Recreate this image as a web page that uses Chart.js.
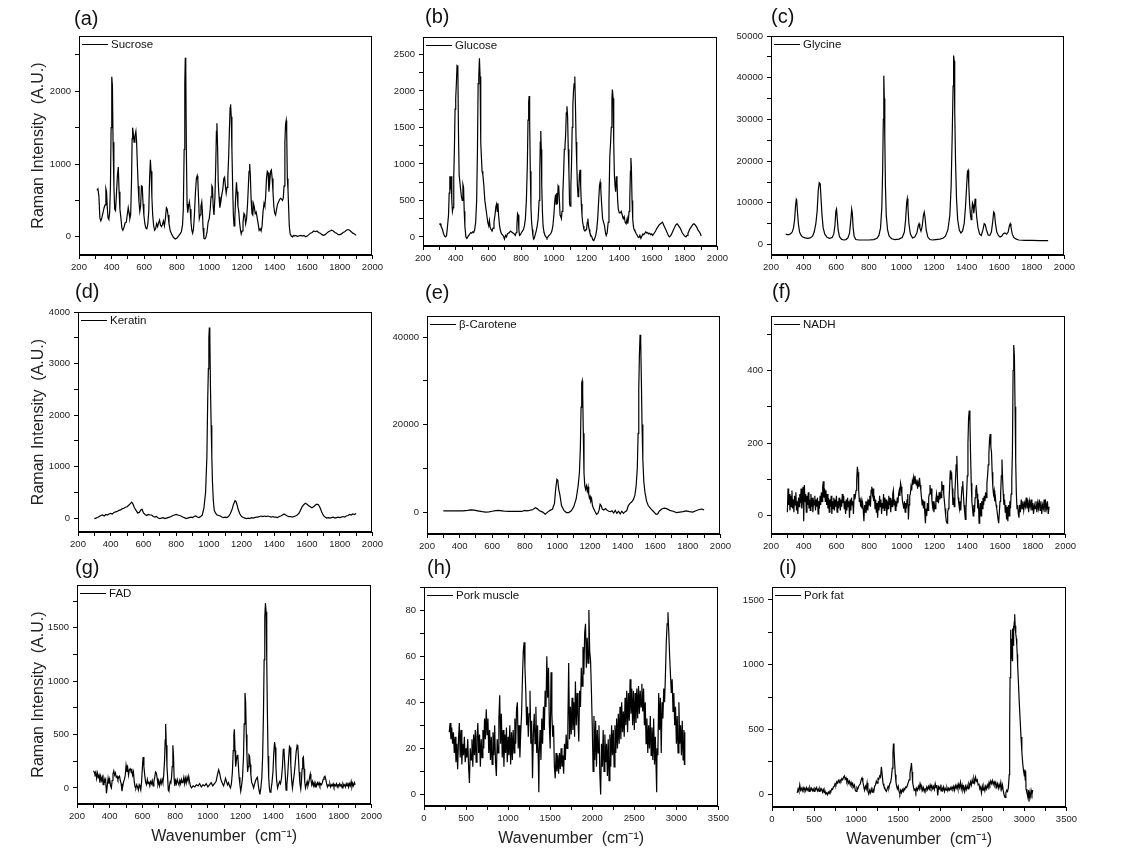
<!DOCTYPE html>
<html>
<head>
<meta charset="utf-8">
<script src="https://cdn.jsdelivr.net/npm/chart.js@4.4.1/dist/chart.umd.min.js"></script>
<style>
  html, body { margin: 0; padding: 0; background: #fff; }
  body { width: 1132px; height: 860px; position: relative; overflow: hidden; }
  canvas { position: absolute; }
</style>
</head>
<body>
<script>
// spectra: [wavenumber, intensity]
const sucrose = [[310,640],[316,660],[322,560],[328,260],[334,220],[340,260],[347,330],[354,400],[360,440],[365,660],[369,620],[373,420],[378,260],[383,240],[388,330],[393,700],[397,1500],[401,2200],[405,2080],[409,1300],[414,700],[419,380],[424,360],[430,600],[436,850],[441,960],[446,620],[451,380],[457,260],[463,120],[469,90],[476,130],[483,190],[490,200],[496,300],[502,400],[507,330],[512,250],[517,300],[522,750],[526,1350],[529,1500],[533,1420],[538,1300],[543,1380],[549,1450],[553,1320],[558,1000],[563,700],[568,480],[573,350],[578,420],[583,700],[588,690],[593,450],[598,300],[604,180],[610,120],[616,110],[622,170],[628,350],[633,800],[638,1060],[642,900],[647,550],[652,300],[658,150],[664,90],[670,110],[676,180],[682,140],[688,190],[694,230],[700,160],[706,140],[712,170],[718,220],[724,150],[730,250],[736,400],[741,380],[746,300],[752,180],[760,80],[770,30],[780,-10],[790,-30],[800,-20],[810,10],[820,40],[828,70],[835,160],[840,380],[845,1200],[849,2100],[852,2460],[855,2300],[859,1100],[863,450],[867,330],[872,420],[877,480],[882,380],[887,200],[892,90],[897,50],[902,100],[908,300],[914,600],[920,800],[925,840],[929,780],[933,550],[938,250],[943,300],[948,420],[953,480],[957,350],[961,120],[966,-20],[972,-30],[978,-10],[985,60],[992,200],[999,250],[1005,380],[1010,550],[1015,700],[1019,680],[1023,420],[1028,300],[1034,550],[1039,1000],[1043,1450],[1046,1560],[1050,1250],[1054,750],[1059,550],[1064,400],[1070,480],[1076,580],[1082,650],[1088,800],[1093,820],[1098,700],[1103,600],[1108,680],[1113,820],[1118,1100],[1123,1500],[1127,1780],[1130,1820],[1134,1650],[1138,1200],[1143,650],[1147,300],[1151,150],[1156,250],[1161,550],[1166,750],[1170,620],[1175,420],[1180,350],[1185,200],[1190,100],[1195,40],[1200,80],[1206,200],[1212,320],[1217,300],[1222,180],[1228,250],[1234,450],[1239,700],[1243,900],[1247,1000],[1251,850],[1256,500],[1261,320],[1266,300],[1271,450],[1276,400],[1281,320],[1287,340],[1293,260],[1299,180],[1305,90],[1311,110],[1317,80],[1323,150],[1329,350],[1335,460],[1340,420],[1345,550],[1350,800],[1355,900],[1360,880],[1365,620],[1370,750],[1375,900],[1380,920],[1385,800],[1390,620],[1395,420],[1400,330],[1406,300],[1412,380],[1418,450],[1424,480],[1430,510],[1436,530],[1442,520],[1448,500],[1453,530],[1458,700],[1463,1300],[1467,1550],[1471,1600],[1474,1450],[1478,800],[1482,650],[1486,400],[1490,150],[1495,40],[1502,10],[1510,0],[1515,20],[1520,10],[1530,20],[1540,5],[1550,15],[1560,20],[1570,10],[1580,20],[1590,0],[1600,10],[1610,30],[1620,50],[1630,60],[1640,80],[1650,70],[1660,80],[1670,60],[1680,50],[1690,30],[1700,20],[1710,30],[1720,50],[1730,70],[1740,80],[1750,90],[1760,80],[1770,60],[1780,50],[1790,30],[1800,30],[1810,40],[1820,60],[1830,70],[1840,90],[1850,100],[1860,90],[1870,70],[1880,50],[1890,40],[1900,20]];

const glucose = [[300,170],[305,180],[310,150],[318,110],[325,50],[332,10],[338,0],[344,20],[350,150],[356,300],[360,600],[364,830],[368,650],[372,830],[376,500],[380,350],[384,400],[388,830],[392,1200],[396,1750],[400,1900],[404,2100],[408,2350],[413,2340],[417,1400],[421,850],[426,850],[430,650],[435,550],[440,500],[444,720],[448,680],[452,350],[456,150],[462,0],[468,-20],[474,0],[480,20],[486,40],[492,60],[498,50],[504,70],[510,60],[516,100],[522,200],[528,500],[533,1200],[537,2100],[541,2200],[545,2450],[549,2200],[553,1300],[557,1100],[561,900],[566,850],[572,700],[578,500],[584,400],[590,300],[596,200],[602,150],[606,220],[610,140],[616,100],[622,80],[628,120],[634,200],[640,300],[646,420],[650,450],[654,350],[658,460],[662,300],[668,150],[674,80],[680,40],[686,30],[692,10],[698,-30],[704,20],[710,0],[716,40],[722,50],[728,60],[734,80],[740,70],[746,60],[752,50],[758,40],[764,20],[770,60],[774,150],[778,320],[782,300],[786,100],[790,20],[796,30],[802,60],[808,80],[814,100],[820,150],[826,250],[832,500],[838,1000],[842,1600],[846,1850],[849,1930],[852,1600],[856,900],[860,400],[864,200],[868,100],[872,20],[876,-30],[880,-20],[886,30],[892,80],[898,150],[904,250],[910,500],[914,900],[917,1300],[920,1450],[923,1200],[926,700],[930,350],[934,150],[940,60],[946,20],[952,0],[958,-20],[964,0],[970,20],[976,30],[982,50],[988,80],[994,150],[1000,300],[1006,500],[1010,580],[1014,450],[1018,600],[1022,450],[1026,700],[1030,680],[1034,500],[1038,300],[1042,280],[1046,250],[1050,350],[1055,600],[1060,900],[1064,1200],[1068,1250],[1072,1400],[1076,1700],[1080,1790],[1084,1650],[1088,1200],[1092,900],[1096,450],[1100,420],[1104,700],[1108,1000],[1112,1500],[1116,1800],[1120,2000],[1124,2100],[1128,2200],[1132,1800],[1136,1300],[1140,1000],[1144,700],[1148,550],[1152,600],[1156,850],[1160,920],[1164,700],[1168,450],[1172,300],[1176,200],[1180,150],[1184,100],[1190,80],[1196,100],[1200,100],[1204,200],[1208,250],[1212,150],[1216,100],[1220,60],[1226,20],[1232,0],[1238,-40],[1244,-50],[1250,-20],[1256,20],[1262,100],[1268,250],[1274,500],[1279,700],[1283,750],[1287,650],[1292,450],[1298,250],[1304,200],[1310,150],[1316,50],[1320,20],[1326,60],[1332,200],[1337,500],[1342,1100],[1347,1300],[1351,1500],[1355,1900],[1358,2020],[1362,1900],[1366,1300],[1370,850],[1374,700],[1378,620],[1382,830],[1386,750],[1390,500],[1394,380],[1400,330],[1406,330],[1412,350],[1418,300],[1424,250],[1430,280],[1436,200],[1442,180],[1448,250],[1452,180],[1456,250],[1460,350],[1464,500],[1468,900],[1471,1080],[1474,950],[1478,500],[1482,250],[1486,150],[1490,100],[1496,80],[1502,50],[1508,30],[1514,0],[1520,-10],[1526,20],[1532,-20],[1538,10],[1544,40],[1550,30],[1556,50],[1562,70],[1568,50],[1574,60],[1580,40],[1586,50],[1592,30],[1598,40],[1604,20],[1610,40],[1616,60],[1622,80],[1628,110],[1634,130],[1640,150],[1646,170],[1652,180],[1658,190],[1664,200],[1670,170],[1676,140],[1682,110],[1688,80],[1694,50],[1700,20],[1706,0],[1712,10],[1718,30],[1724,60],[1730,90],[1736,120],[1742,150],[1748,170],[1754,180],[1760,160],[1766,140],[1772,120],[1778,90],[1784,60],[1790,40],[1796,20],[1802,10],[1808,0],[1814,20],[1820,50],[1826,80],[1832,110],[1838,130],[1844,150],[1850,170],[1856,180],[1862,170],[1868,150],[1874,130],[1880,100],[1886,80],[1892,60],[1898,30],[1900,10]];

const glycine = [[290,2500],[300,2400],[310,2400],[320,2600],[330,3000],[338,4000],[345,6000],[350,9000],[355,10800],[358,10500],[362,8000],[368,5000],[375,3000],[385,2200],[395,1800],[410,1600],[425,1500],[440,1600],[455,2000],[465,3000],[475,5000],[483,8000],[490,13000],[496,14800],[502,14500],[507,11000],[513,7000],[520,4000],[530,2500],[545,1700],[560,1500],[575,1700],[585,2500],[592,4500],[598,8000],[602,8500],[606,6500],[612,3500],[620,1900],[632,1300],[645,1100],[660,1200],[672,1600],[682,2800],[690,6000],[695,8500],[699,7500],[704,4000],[710,2000],[720,1200],[740,1100],[770,1100],[800,1100],[830,1200],[850,1500],[862,2200],[872,4000],[880,9000],[885,18000],[889,30000],[892,40500],[895,35000],[898,26000],[902,14000],[907,7000],[915,3500],[925,2000],[940,1400],[960,1200],[985,1300],[1005,1700],[1018,3000],[1026,6000],[1032,10000],[1036,11000],[1040,9000],[1046,5000],[1055,2500],[1068,1600],[1082,1800],[1095,2800],[1103,4500],[1108,5000],[1113,4000],[1120,3200],[1128,4500],[1135,7000],[1140,7800],[1145,6500],[1152,3500],[1162,1800],[1175,1200],[1190,1100],[1210,1200],[1235,1300],[1255,1500],[1270,2000],[1285,3500],[1297,7000],[1305,14000],[1312,27000],[1317,38000],[1320,45300],[1324,44000],[1327,32000],[1332,20000],[1338,11000],[1345,6000],[1355,3500],[1365,2800],[1375,3200],[1385,5000],[1393,9000],[1400,14000],[1405,17500],[1409,17800],[1413,14500],[1418,10000],[1424,7000],[1428,6000],[1432,8000],[1436,10000],[1440,9500],[1444,7500],[1448,9000],[1452,11000],[1456,9500],[1462,6500],[1470,4000],[1480,2500],[1490,2200],[1500,3500],[1508,5000],[1514,4800],[1522,3500],[1532,2300],[1542,2200],[1552,3000],[1560,5500],[1566,7800],[1571,7500],[1577,5000],[1585,3000],[1595,2200],[1605,1800],[1615,2000],[1625,2600],[1635,2800],[1645,2500],[1655,3000],[1662,4500],[1667,5000],[1672,4200],[1680,2500],[1690,1700],[1705,1300],[1720,1100],[1760,1000],[1800,1000],[1850,950],[1900,950]];

const keratin = [[300,-10],[310,0],[320,10],[330,30],[340,50],[350,60],[360,40],[370,70],[380,60],[390,80],[400,90],[410,80],[420,110],[430,120],[440,130],[450,150],[460,160],[470,180],[480,190],[490,210],[500,220],[510,250],[520,280],[528,310],[535,280],[545,200],[555,150],[565,100],[575,110],[585,160],[592,170],[600,100],[610,70],[620,50],[630,70],[640,60],[650,60],[660,30],[670,20],[680,30],[690,0],[700,-10],[710,0],[720,10],[730,-10],[740,0],[750,10],[760,20],[770,30],[780,50],[790,60],[800,70],[810,60],[820,50],[830,40],[840,20],[850,10],[860,-10],[870,0],[880,10],[890,20],[900,10],[910,30],[920,40],[930,20],[940,10],[950,30],[960,60],[970,200],[980,500],[988,1200],[993,2300],[997,2900],[1000,3500],[1003,3700],[1006,3500],[1010,2500],[1014,1800],[1018,1200],[1022,700],[1027,350],[1033,150],[1040,100],[1050,60],[1060,50],[1070,40],[1080,20],[1090,10],[1100,20],[1110,10],[1120,30],[1130,80],[1140,150],[1150,260],[1160,340],[1166,320],[1173,250],[1180,160],[1190,80],[1200,30],[1210,10],[1220,0],[1230,-10],[1240,0],[1250,-10],[1260,10],[1270,0],[1280,10],[1290,20],[1300,20],[1310,30],[1320,40],[1330,30],[1340,40],[1350,30],[1360,40],[1370,30],[1380,20],[1390,30],[1400,20],[1410,20],[1420,10],[1430,30],[1440,40],[1450,60],[1460,80],[1470,60],[1480,40],[1490,30],[1500,30],[1510,20],[1520,30],[1530,40],[1540,60],[1550,90],[1560,150],[1570,220],[1580,260],[1590,290],[1600,270],[1610,240],[1620,220],[1630,200],[1640,220],[1650,250],[1660,270],[1670,260],[1680,200],[1690,120],[1700,50],[1710,20],[1720,0],[1730,10],[1740,0],[1750,10],[1760,20],[1770,0],[1780,10],[1790,20],[1800,10],[1810,20],[1820,30],[1830,20],[1840,40],[1850,50],[1860,70],[1870,60],[1880,80],[1890,70],[1900,90]];

const carotene = [[300,300],[340,300],[380,300],[420,300],[450,400],[470,500],[490,450],[510,300],[540,100],[560,0],[580,50],[600,200],[620,350],[640,400],[660,300],[680,200],[700,150],[740,150],[780,150],[800,400],[810,300],[830,400],[850,600],[865,1000],[875,800],[890,300],[910,0],[925,-500],[940,0],[955,400],[970,700],[982,2000],[990,5500],[997,7500],[1002,7300],[1008,5200],[1015,4000],[1025,1500],[1040,400],[1055,-100],[1070,-100],[1085,300],[1100,1200],[1115,3000],[1127,6000],[1135,9000],[1141,15000],[1145,24000],[1149,29500],[1152,30000],[1155,27000],[1159,18000],[1163,9000],[1168,6000],[1173,5200],[1178,6000],[1183,4800],[1188,5800],[1192,4200],[1196,3200],[1200,3600],[1205,2500],[1210,3000],[1215,1500],[1222,800],[1230,200],[1240,-500],[1248,-300],[1256,500],[1262,1800],[1268,1500],[1275,700],[1285,500],[1295,800],[1305,400],[1315,200],[1325,100],[1335,300],[1345,-200],[1355,400],[1365,-300],[1375,200],[1385,-400],[1395,200],[1405,-300],[1415,100],[1425,300],[1435,1500],[1445,2000],[1455,2300],[1465,2800],[1475,3800],[1483,6000],[1490,10000],[1495,18000],[1499,28000],[1503,36000],[1507,40500],[1511,39000],[1515,30000],[1519,20000],[1524,12000],[1530,7000],[1537,4500],[1547,2500],[1557,1500],[1572,800],[1588,200],[1605,-500],[1615,-400],[1625,200],[1640,700],[1655,900],[1670,800],[1690,400],[1710,200],[1730,-100],[1750,0],[1770,100],[1790,300],[1810,100],[1830,0],[1850,300],[1870,600],[1885,700],[1900,500]];

const nadh = [[300,10],[304,75],[308,30],[312,60],[316,15],[320,55],[324,25],[328,70],[332,20],[336,45],[340,10],[344,55],[348,30],[352,65],[356,15],[360,40],[364,5],[368,50],[372,25],[376,60],[380,35],[384,75],[388,20],[392,50],[396,80],[400,-15],[404,85],[408,40],[412,60],[416,10],[420,55],[424,30],[428,65],[432,20],[436,45],[440,15],[444,60],[448,25],[452,50],[456,10],[460,40],[464,30],[468,55],[472,15],[476,45],[480,25],[484,50],[488,5],[492,40],[496,20],[500,55],[504,30],[508,65],[512,40],[516,80],[520,95],[524,50],[528,75],[532,40],[536,70],[540,30],[544,60],[548,20],[552,50],[556,10],[560,45],[564,25],[568,55],[572,5],[576,40],[580,20],[584,50],[588,15],[592,45],[596,25],[600,55],[604,10],[608,40],[612,20],[616,50],[620,30],[624,15],[628,45],[632,25],[636,60],[640,35],[644,55],[648,20],[652,40],[656,5],[660,45],[664,15],[668,50],[672,25],[676,40],[680,-5],[684,45],[688,15],[692,50],[696,30],[700,40],[704,5],[708,60],[712,45],[716,55],[720,70],[724,100],[728,135],[732,120],[736,70],[740,40],[744,50],[748,25],[752,40],[756,20],[760,35],[764,15],[768,-15],[772,30],[776,10],[780,40],[784,20],[788,35],[792,15],[796,45],[800,30],[804,55],[808,25],[812,70],[816,80],[820,60],[824,75],[828,40],[832,55],[836,20],[840,45],[844,10],[848,35],[852,-5],[856,40],[860,15],[864,55],[868,25],[872,45],[876,5],[880,35],[884,20],[888,60],[892,15],[896,50],[900,30],[904,45],[908,0],[912,40],[916,20],[920,55],[924,30],[928,50],[932,10],[936,45],[940,25],[944,60],[948,70],[952,30],[956,45],[960,15],[964,40],[968,25],[972,50],[976,35],[980,60],[984,70],[988,55],[992,90],[996,80],[1000,60],[1004,40],[1008,30],[1012,20],[1016,40],[1020,10],[1024,35],[1028,20],[1032,45],[1036,60],[1040,-10],[1044,30],[1048,55],[1052,60],[1056,80],[1060,70],[1064,95],[1068,85],[1072,105],[1076,90],[1080,110],[1084,95],[1088,85],[1092,100],[1096,75],[1100,90],[1104,80],[1108,105],[1112,85],[1116,70],[1120,50],[1124,30],[1128,45],[1132,20],[1136,40],[1140,10],[1144,-20],[1148,20],[1152,0],[1156,35],[1160,15],[1164,50],[1168,60],[1172,85],[1176,60],[1180,75],[1184,40],[1188,25],[1192,40],[1196,10],[1200,30],[1204,20],[1208,45],[1212,60],[1216,40],[1220,55],[1224,35],[1228,65],[1232,45],[1236,60],[1240,50],[1244,95],[1248,70],[1252,85],[1256,60],[1260,40],[1264,20],[1268,0],[1272,-15],[1276,-20],[1280,10],[1284,20],[1288,40],[1292,80],[1296,125],[1300,100],[1304,120],[1308,75],[1312,30],[1316,50],[1320,25],[1324,60],[1328,100],[1332,140],[1336,165],[1340,100],[1344,50],[1348,35],[1352,20],[1356,40],[1360,15],[1364,55],[1368,80],[1372,95],[1376,60],[1380,30],[1384,10],[1388,-10],[1392,20],[1396,60],[1400,110],[1404,200],[1408,270],[1412,290],[1416,260],[1420,170],[1424,90],[1428,40],[1432,20],[1436,0],[1440,30],[1444,10],[1448,50],[1452,70],[1456,85],[1460,60],[1464,20],[1468,45],[1472,-20],[1476,15],[1480,35],[1484,0],[1488,40],[1492,20],[1496,50],[1500,30],[1504,55],[1508,40],[1512,65],[1516,50],[1520,90],[1524,110],[1528,140],[1532,170],[1536,210],[1540,225],[1544,190],[1548,175],[1552,120],[1556,80],[1560,60],[1564,70],[1568,40],[1572,50],[1576,30],[1580,20],[1584,5],[1588,-10],[1592,-20],[1596,10],[1600,40],[1604,60],[1608,110],[1612,155],[1616,100],[1620,60],[1624,30],[1628,45],[1632,10],[1636,30],[1640,-10],[1644,25],[1648,-15],[1652,30],[1656,0],[1660,40],[1664,20],[1668,60],[1672,100],[1676,180],[1680,400],[1684,470],[1688,440],[1692,300],[1696,150],[1700,60],[1704,20],[1708,30],[1712,5],[1716,-5],[1720,30],[1725,10],[1730,45],[1735,20],[1740,40],[1745,15],[1750,35],[1755,25],[1760,50],[1765,20],[1770,45],[1775,10],[1780,40],[1785,25],[1790,45],[1795,15],[1800,35],[1805,5],[1810,30],[1815,20],[1820,40],[1825,10],[1830,35],[1835,20],[1840,45],[1845,15],[1850,40],[1855,5],[1860,30],[1865,20],[1870,45],[1875,10],[1880,35],[1885,20],[1890,40],[1895,5],[1900,25]];

const fad = [[300,160],[305,150],[310,130],[315,150],[320,90],[325,140],[330,100],[335,120],[340,50],[345,110],[350,70],[355,100],[360,30],[365,90],[370,60],[375,80],[380,-50],[385,20],[390,90],[395,40],[400,80],[405,20],[410,0],[415,70],[420,130],[425,160],[430,120],[435,140],[440,100],[445,110],[450,80],[455,100],[460,110],[465,70],[470,40],[475,-30],[480,20],[485,60],[490,80],[495,120],[500,210],[505,150],[510,190],[515,120],[520,170],[525,180],[530,160],[535,170],[540,120],[545,150],[550,60],[555,10],[560,0],[565,30],[570,10],[575,-20],[580,30],[585,10],[590,-20],[595,60],[600,200],[604,290],[609,200],[614,120],[620,50],[625,30],[630,80],[635,40],[640,60],[645,20],[650,60],[655,40],[660,70],[665,20],[670,60],[675,100],[680,150],[685,140],[690,90],[695,30],[700,60],[705,20],[710,70],[715,40],[720,80],[725,50],[730,120],[735,250],[739,450],[742,600],[746,400],[750,200],[754,100],[758,-20],[762,-30],[766,30],[770,60],[774,50],[778,100],[782,200],[786,400],[790,300],[794,80],[798,20],[803,70],[808,40],[813,80],[818,50],[823,30],[828,70],[833,40],[838,80],[843,50],[848,60],[853,100],[858,40],[863,90],[868,50],[873,100],[878,70],[883,110],[888,60],[893,20],[900,0],[910,20],[920,10],[930,30],[940,20],[950,40],[960,10],[970,30],[980,20],[990,40],[1000,10],[1010,30],[1020,50],[1030,20],[1040,40],[1050,60],[1058,120],[1066,170],[1072,140],[1078,90],[1084,60],[1090,40],[1096,20],[1102,50],[1108,90],[1114,60],[1120,30],[1126,50],[1132,20],[1138,0],[1144,40],[1150,150],[1155,350],[1159,500],[1162,550],[1166,350],[1170,200],[1174,250],[1179,300],[1183,310],[1187,200],[1191,100],[1196,30],[1201,-30],[1206,20],[1212,100],[1218,300],[1222,600],[1227,890],[1231,800],[1235,500],[1239,300],[1243,150],[1247,200],[1251,310],[1255,300],[1259,220],[1263,120],[1268,50],[1274,30],[1280,0],[1286,40],[1292,70],[1298,90],[1303,100],[1308,30],[1313,-20],[1318,-60],[1324,0],[1330,100],[1335,300],[1340,700],[1344,1200],[1348,1600],[1352,1730],[1356,1650],[1360,1200],[1364,700],[1368,300],[1372,100],[1376,0],[1380,-40],[1386,-20],[1392,50],[1398,150],[1403,330],[1408,430],[1412,380],[1416,200],[1420,80],[1426,0],[1432,30],[1438,60],[1444,40],[1450,90],[1456,200],[1461,360],[1465,370],[1469,250],[1474,100],[1478,-20],[1483,30],[1488,120],[1494,280],[1499,390],[1503,380],[1507,220],[1512,80],[1517,0],[1522,60],[1528,130],[1534,230],[1540,340],[1546,400],[1550,390],[1554,280],[1558,150],[1563,40],[1568,-10],[1572,60],[1576,180],[1580,280],[1584,290],[1588,180],[1592,60],[1597,0],[1602,30],[1607,60],[1612,20],[1617,50],[1622,100],[1626,130],[1630,80],[1635,30],[1640,60],[1645,20],[1650,50],[1655,10],[1660,40],[1665,20],[1670,50],[1675,30],[1680,50],[1685,20],[1690,40],[1695,30],[1700,50],[1705,80],[1710,100],[1716,110],[1721,80],[1726,40],[1731,10],[1736,30],[1741,20],[1746,40],[1751,10],[1756,30],[1761,20],[1766,40],[1771,10],[1776,30],[1781,20],[1786,40],[1791,10],[1796,30],[1801,20],[1806,40],[1811,20],[1816,30],[1821,0],[1826,40],[1831,20],[1836,30],[1841,10],[1846,40],[1851,20],[1856,50],[1861,10],[1866,40],[1871,20],[1876,60],[1881,10],[1886,40],[1891,20],[1896,50],[1900,30]];

const porkMuscle = [[300,27],[310,31],[320,24],[330,29],[340,22],[350,27],[360,18],[370,25],[380,14],[390,22],[400,11],[410,24],[420,31],[430,16],[440,28],[450,13],[460,22],[470,17],[480,25],[490,14],[500,20],[510,16],[520,24],[530,12],[540,5],[550,20],[560,15],[570,24],[580,12],[590,26],[600,17],[610,28],[620,14],[630,25],[640,31],[650,18],[660,26],[670,12],[680,24],[690,16],[700,28],[710,20],[720,33],[730,24],[740,37],[750,26],[760,33],[770,18],[780,28],[790,15],[800,25],[810,13],[820,27],[830,17],[840,30],[850,14],[860,8],[870,24],[880,18],[890,33],[900,43],[910,22],[920,35],[930,16],[940,28],[950,12],[960,26],[970,18],[980,29],[990,14],[1000,25],[1010,17],[1020,30],[1030,13],[1040,27],[1050,15],[1060,28],[1070,18],[1080,33],[1090,22],[1100,37],[1110,40],[1120,20],[1130,30],[1140,16],[1150,27],[1160,35],[1170,50],[1180,62],[1190,66],[1200,55],[1210,45],[1220,30],[1230,38],[1240,25],[1250,35],[1260,45],[1270,22],[1280,32],[1290,7],[1300,26],[1310,35],[1320,22],[1330,38],[1340,18],[1350,30],[1360,12],[1365,1],[1370,18],[1380,28],[1390,15],[1400,33],[1410,22],[1420,38],[1430,28],[1440,45],[1450,38],[1460,60],[1470,42],[1480,55],[1490,30],[1500,20],[1510,53],[1520,35],[1530,25],[1540,30],[1550,12],[1560,7],[1570,18],[1580,10],[1590,17],[1600,9],[1610,18],[1620,11],[1630,20],[1640,12],[1650,17],[1660,9],[1670,22],[1680,15],[1690,26],[1700,20],[1710,30],[1720,57],[1730,24],[1740,38],[1750,26],[1760,42],[1770,28],[1780,40],[1790,25],[1800,49],[1810,30],[1820,44],[1830,33],[1840,23],[1850,45],[1860,38],[1870,55],[1880,47],[1890,64],[1900,52],[1910,70],[1920,74],[1930,55],[1940,68],[1950,57],[1960,80],[1970,62],[1980,58],[1990,45],[2000,30],[2010,10],[2020,34],[2030,15],[2040,32],[2050,12],[2060,28],[2070,18],[2080,30],[2090,9],[2100,0],[2110,22],[2120,12],[2130,28],[2140,10],[2150,26],[2160,14],[2170,22],[2180,8],[2190,24],[2200,6],[2210,26],[2220,12],[2230,30],[2240,17],[2250,28],[2260,12],[2270,30],[2280,18],[2290,33],[2300,20],[2310,35],[2320,22],[2330,38],[2340,24],[2350,40],[2360,27],[2370,36],[2380,25],[2390,42],[2400,30],[2410,45],[2420,27],[2430,44],[2440,32],[2450,50],[2460,35],[2470,46],[2480,30],[2490,45],[2500,28],[2510,44],[2520,31],[2530,46],[2540,33],[2550,47],[2560,35],[2570,45],[2580,38],[2590,48],[2600,36],[2610,46],[2620,30],[2630,40],[2640,22],[2650,33],[2660,18],[2670,30],[2680,20],[2690,34],[2700,17],[2710,29],[2720,15],[2730,33],[2740,13],[2750,25],[2760,10],[2766,1],[2770,20],[2780,17],[2790,44],[2800,28],[2810,42],[2820,18],[2830,40],[2840,33],[2850,46],[2860,40],[2870,52],[2880,66],[2890,74],[2900,79],[2910,70],[2920,60],[2930,52],[2940,44],[2950,50],[2960,36],[2970,44],[2980,30],[2990,38],[3000,22],[3010,34],[3020,18],[3030,40],[3040,22],[3050,30],[3060,17],[3070,32],[3080,15],[3090,28],[3095,13],[3100,27]];

const porkFat = [[300,10],[310,40],[320,20],[330,70],[340,30],[350,45],[360,25],[370,50],[380,30],[390,45],[400,25],[410,50],[420,30],[430,45],[440,20],[450,50],[460,30],[470,45],[480,25],[490,40],[500,20],[510,45],[520,35],[530,50],[540,25],[550,40],[560,20],[570,45],[580,30],[590,40],[600,15],[610,35],[620,10],[630,25],[640,0],[650,10],[660,-5],[670,15],[680,5],[690,25],[700,20],[710,40],[720,35],[730,55],[740,60],[750,80],[760,70],[770,95],[780,85],[790,105],[800,90],[810,110],[820,100],[830,120],[840,110],[850,130],[860,140],[870,115],[880,125],[890,95],[900,110],[910,85],[920,100],[930,70],[940,90],[950,65],[960,80],[970,55],[980,70],[990,30],[1000,20],[1010,50],[1020,40],[1030,60],[1040,70],[1050,80],[1060,110],[1070,125],[1080,95],[1090,60],[1100,30],[1110,60],[1120,40],[1130,85],[1140,20],[1150,0],[1160,30],[1170,10],[1180,40],[1190,15],[1200,35],[1210,20],[1220,60],[1230,70],[1240,100],[1250,85],[1260,120],[1270,115],[1280,140],[1290,130],[1300,210],[1310,150],[1320,80],[1330,60],[1340,50],[1350,30],[1360,20],[1370,40],[1380,60],[1390,50],[1400,80],[1410,90],[1420,130],[1430,200],[1438,320],[1444,390],[1450,350],[1458,240],[1466,150],[1474,90],[1482,60],[1490,40],[1500,60],[1510,20],[1520,0],[1530,30],[1540,10],[1550,35],[1560,20],[1570,45],[1580,40],[1590,55],[1600,50],[1610,70],[1620,90],[1630,110],[1640,160],[1650,200],[1658,240],[1665,170],[1672,90],[1680,60],[1690,30],[1700,40],[1710,15],[1720,45],[1730,30],[1740,60],[1750,40],[1760,80],[1770,50],[1780,60],[1790,30],[1800,50],[1810,20],[1820,40],[1830,30],[1840,55],[1850,35],[1860,60],[1870,40],[1880,70],[1890,45],[1900,65],[1910,40],[1920,60],[1930,35],[1940,80],[1950,50],[1960,70],[1970,-10],[1980,55],[1990,40],[2000,60],[2010,25],[2020,50],[2030,30],[2040,55],[2050,20],[2060,45],[2070,30],[2080,50],[2090,25],[2100,45],[2110,30],[2120,50],[2130,35],[2140,55],[2150,40],[2160,60],[2170,30],[2180,65],[2190,45],[2200,70],[2210,40],[2220,75],[2230,50],[2240,90],[2250,40],[2260,70],[2270,30],[2280,55],[2290,20],[2300,60],[2310,35],[2320,65],[2330,40],[2340,80],[2350,60],[2360,95],[2370,70],[2380,110],[2390,85],[2400,120],[2410,90],[2420,130],[2430,100],[2440,110],[2450,70],[2460,80],[2470,40],[2480,55],[2490,10],[2500,60],[2510,30],[2520,55],[2530,25],[2540,60],[2550,40],[2560,70],[2570,50],[2580,90],[2590,70],[2600,100],[2610,80],[2620,105],[2630,75],[2640,95],[2650,70],[2660,90],[2670,55],[2680,80],[2690,45],[2700,75],[2710,50],[2720,90],[2730,40],[2740,70],[2750,20],[2760,-10],[2770,-25],[2780,10],[2790,30],[2800,20],[2810,50],[2820,150],[2825,500],[2830,900],[2835,1150],[2840,1270],[2845,1050],[2850,1200],[2855,1030],[2860,1280],[2865,1150],[2870,1300],[2875,1250],[2880,1330],[2885,1390],[2890,1300],[2895,1290],[2900,1240],[2905,1200],[2910,1150],[2915,1080],[2920,1000],[2930,850],[2940,700],[2950,570],[2960,440],[2970,330],[2980,240],[2990,180],[3000,140],[3005,190],[3010,110],[3015,180],[3020,40],[3030,10],[3040,-20],[3050,30],[3055,-60],[3060,10],[3070,-20],[3080,30],[3090,0],[3100,30]];

const seriesNames = ['Sucrose', 'Glucose', 'Glycine', 'Keratin', 'β-Carotene', 'NADH', 'FAD', 'Pork muscle', 'Pork fat'];
const seriesData = [sucrose, glucose, glycine, keratin, carotene, nadh, fad, porkMuscle, porkFat];
const panelTags = ['(a)', '(b)', '(c)', '(d)', '(e)', '(f)', '(g)', '(h)', '(i)'];

// axis ranges [min, max] and tick marks; labels only on the *LabelStep multiples
const xRanges = [[200, 2000], [200, 2000], [200, 2000], [200, 2000], [200, 2000], [200, 2000], [200, 2000], [0, 3500], [0, 3500]];
const xTicksShort = [200,300,400,500,600,700,800,900,1000,1100,1200,1300,1400,1500,1600,1700,1800,1900,2000];
const xTicksLong = [0,250,500,750,1000,1250,1500,1750,2000,2250,2500,2750,3000,3250,3500];
const xLabelStep = [200, 200, 200, 200, 200, 200, 200, 500, 500];

const yRanges = [[-250, 2760], [-125, 2740], [-2500, 50000], [-270, 4000], [-5000, 44800], [-50, 550], [-150, 1900], [-5, 90], [-100, 1600]];
const yTicks = [
  [0, 500, 1000, 1500, 2000, 2500],
  [0, 250, 500, 750, 1000, 1250, 1500, 1750, 2000, 2250, 2500],
  [0, 5000, 10000, 15000, 20000, 25000, 30000, 35000, 40000, 45000, 50000],
  [0, 500, 1000, 1500, 2000, 2500, 3000, 3500, 4000],
  [0, 10000, 20000, 30000, 40000],
  [0, 100, 200, 300, 400, 500],
  [0, 250, 500, 750, 1000, 1250, 1500, 1750],
  [0, 10, 20, 30, 40, 50, 60, 70, 80, 90],
  [0, 250, 500, 750, 1000, 1250, 1500]
];
const yLabelStep = [1000, 500, 10000, 1000, 20000, 200, 500, 20, 500];

// layout in page pixels: plot box [left, top, right, bottom] and tag position
const boxes = [
  [79, 36, 374, 255], [423, 37, 719, 246], [771, 36, 1066, 255],
  [78, 312, 374, 532], [427, 316, 722, 534], [771, 316, 1067, 534],
  [77, 585, 373, 804], [424, 587, 720, 806], [772, 587, 1068, 807]
];
const tagPos = [[74, 19], [425, 17], [771, 17], [75, 292], [425, 293], [772, 292], [75, 568], [427, 568], [779, 568]];

Chart.defaults.font.family = "'Liberation Sans', Arial, sans-serif";
const tickFont = { family: "'Liberation Sans Narrow', 'Liberation Sans', Arial, sans-serif", size: 9.5 };

const onStep = (v, step) => Math.abs(v / step - Math.round(v / step)) < 1e-6 ? String(v) : '';

// frame around the plot box, legend entry inside it, panel letter above it
const frameTag = {
  id: 'frameTag',
  afterDraw(chart, args, opts) {
    const { ctx, chartArea: a } = chart;
    const L = Math.round(a.left), T = Math.round(a.top);
    ctx.save();
    ctx.strokeStyle = '#000';
    ctx.lineWidth = 1;
    ctx.strokeRect(L + 0.5, T + 0.5, Math.round(a.right - a.left) - 1, Math.round(a.bottom - a.top) - 1);

    const ly = T + 8.5;
    ctx.beginPath();
    ctx.moveTo(L + 3, ly);
    ctx.lineTo(L + 29, ly);
    ctx.stroke();
    ctx.fillStyle = '#111';
    ctx.font = "11.5px 'Liberation Sans', Arial, sans-serif";
    ctx.textBaseline = 'middle';
    ctx.fillText(chart.data.datasets[0].label, L + 32, ly);

    ctx.font = "20px 'Liberation Sans', Arial, sans-serif";
    ctx.fillText(opts.tag, opts.tx, opts.ty);
    ctx.restore();
  }
};

seriesNames.forEach((name, i) => {
  const [l, t, r, b] = boxes[i];
  const col = i % 3, row = Math.floor(i / 3);
  const padL = col === 0 ? l : 62;
  const padT = 34, padR = 12;
  const padB = row === 2 ? 52 : 24;
  const cv = document.createElement('canvas');
  cv.width = (r - l) + padL + padR;
  cv.height = (b - t) + padT + padB;
  cv.style.left = (l - padL) + 'px';
  cv.style.top = (t - padT) + 'px';
  document.body.appendChild(cv);

  const xr = xRanges[i], yr = yRanges[i];
  const xt = xr[1] > 2000 ? xTicksLong : xTicksShort;
  new Chart(cv, {
    type: 'line',
    data: {
      datasets: [{
        label: name,
        data: seriesData[i].map(([x, y]) => ({ x, y })),
        borderColor: '#000',
        borderWidth: 1.2,
        pointRadius: 0,
        tension: 0,
        fill: false
      }]
    },
    options: {
      responsive: false,
      animation: false,
      devicePixelRatio: 1,
      layout: { padding: { top: padT, right: padR, left: 0, bottom: 0 } },
      plugins: {
        legend: { display: false },
        tooltip: { enabled: false },
        frameTag: { tag: panelTags[i], tx: tagPos[i][0] - (l - padL), ty: tagPos[i][1] - (t - padT) }
      },
      scales: {
        x: {
          type: 'linear',
          min: xr[0], max: xr[1],
          grid: { drawOnChartArea: false, tickLength: 4, color: '#000' },
          border: { color: '#000' },
          afterBuildTicks: s => { s.ticks = xt.map(v => ({ value: v })); },
          ticks: {
            autoSkip: false, maxRotation: 0,
            padding: 3, color: '#222', font: tickFont,
            callback: v => onStep(v, xLabelStep[i])
          },
          title: {
            display: row === 2, text: 'Wavenumber  (cm⁻¹)', color: '#222',
            font: { size: 16 }, padding: { top: 0, bottom: 10 }
          },
          afterFit: s => { s.height = padB; }
        },
        y: {
          min: yr[0], max: yr[1],
          grid: { drawOnChartArea: false, tickLength: 4, color: '#000' },
          border: { color: '#000' },
          afterBuildTicks: s => { s.ticks = yTicks[i].map(v => ({ value: v })); },
          ticks: {
            autoSkip: false,
            padding: 4, color: '#222', font: tickFont,
            callback: v => onStep(v, yLabelStep[i])
          },
          title: {
            display: col === 0, text: 'Raman Intensity  (A.U.)', color: '#222',
            font: { size: 16 }, padding: { top: 29, bottom: 0 }
          },
          afterFit: s => { s.width = padL; }
        }
      }
    },
    plugins: [frameTag]
  });
});
</script>
</body>
</html>
